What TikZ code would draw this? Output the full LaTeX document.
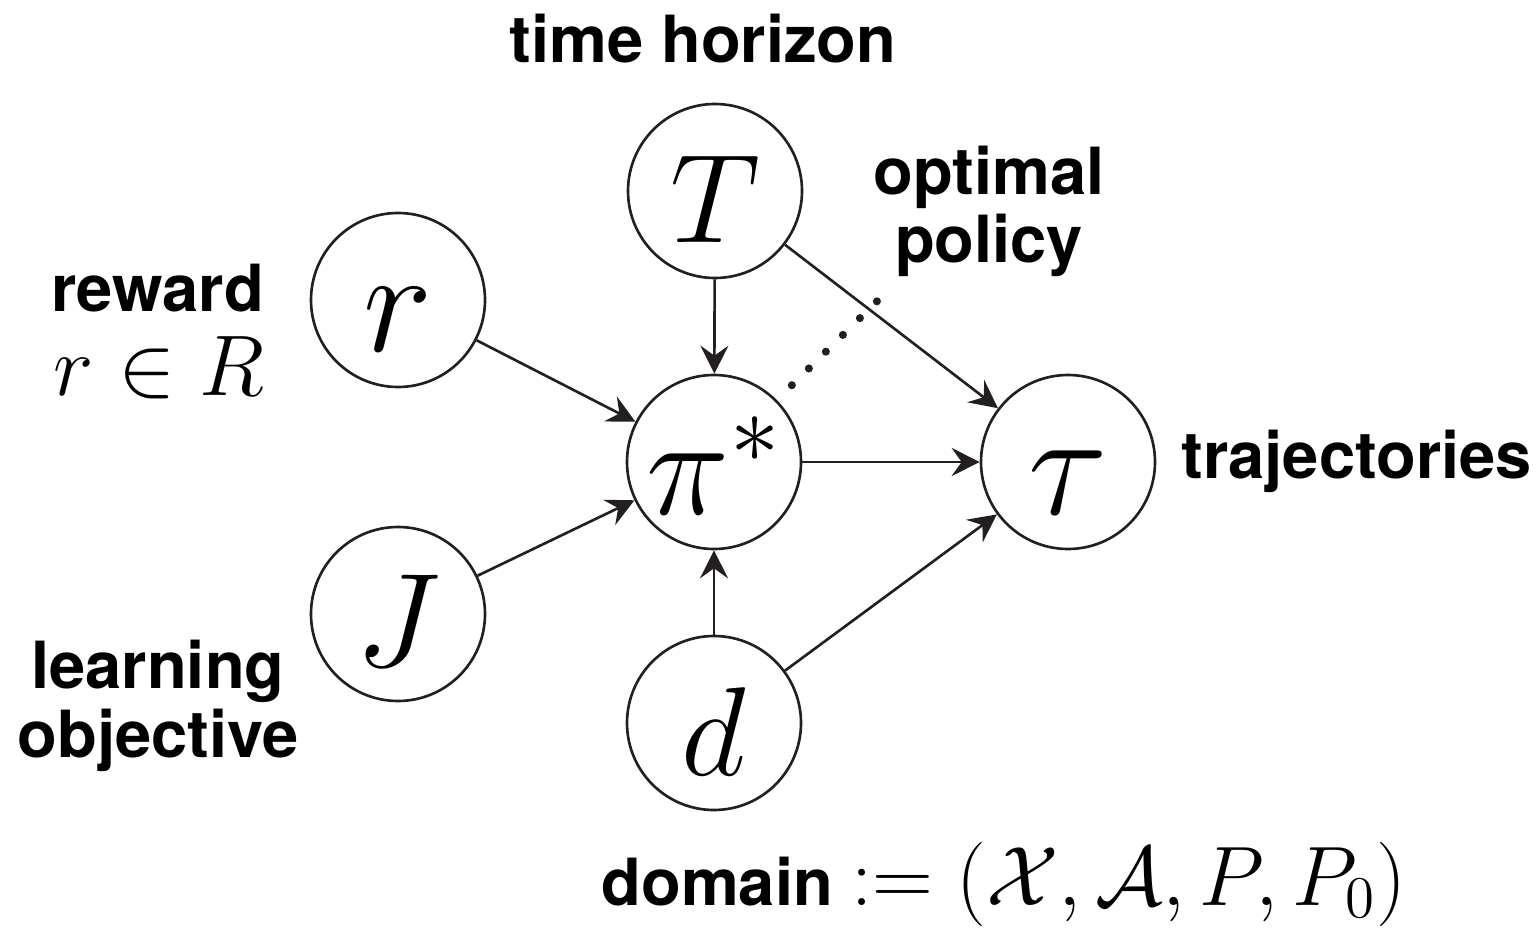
\documentclass[tikz,border=0pt]{standalone}
\usepackage{fix-cm}
\usepackage[no-math]{fontspec}
\newfontfamily\heros{TeX Gyre Heros}
\usetikzlibrary{arrows.meta, positioning}
\definecolor{cink}{HTML}{231F20}
\tikzset{
  every picture/.style={line width=0.75pt},
  var/.style={circle, draw=cink, minimum size=1.74cm, inner sep=0pt, text height=1.04cm, text depth=0pt, font=\fontsize{#1}{#1}\selectfont},
  var/.default=37,
  arrow/.style={-{Stealth[length=2.8mm, width=2.8mm, inset=1mm]}, draw=cink},
  dotline/.style={draw=cink, line width=2.3pt, line cap=round, dash pattern=on 0pt off 6.8pt},
  tag/.style={font=\heros\bfseries\fontsize{18.5}{19.5}\selectfont, align=center, anchor=base},
}

\begin{document}
\begin{tikzpicture}
  \useasboundingbox (0,0) rectangle (15.39,9.29);
  % ---------- variables
  \node[var=36] (T) at (7.15, 7.38) {$T$};
  \node[var=42] (r) at (3.98, 6.29) {$r$};
  \node[var=40] (pi) at (7.14, 4.67) {$\pi^*$};
  \node[var=38] (J) at (3.98, 3.15) {$J$};
  \node[var=36] (d) at (7.14, 2.06) {$d$};
  \node[var=42] (tau) at (10.68, 4.67) {$\tau$};
  % ---------- labels
  \node[tag] (lT) at (7.03, 8.66) {time horizon};
  \node[tag] (lpi) at (9.89, 6.66) {optimal\\policy};
  \node[tag] (lr) at (1.575, 6.17) {reward};
  \node[tag, font=\fontsize{24.5}{26}\selectfont] (lR) at (1.59, 5.33) {$r \in R$};
  \node[tag] (ltau) at (13.565, 4.51) {trajectories};
  \node[tag] (lJ) at (1.58, 1.72) {learning\\objective};
  \node[tag] (ld) at (10.04, 0.24) {domain {\fontsize{24}{26}\selectfont$:= (\mathcal{X}, \mathcal{A}, P, P_0)$}};
  % ---------- edges
  \foreach \s in {T, r, J, d}
    \draw[arrow] (\s) -- (pi);
  \foreach \s in {pi, T, d}
    \draw[arrow] (\s) -- (tau);
  \coordinate (opt) at ([shift={(44.6:2.29)}]pi.center);
  \draw[dotline, shorten <=0.21cm] (pi) -- (opt);
\end{tikzpicture}
\end{document}
